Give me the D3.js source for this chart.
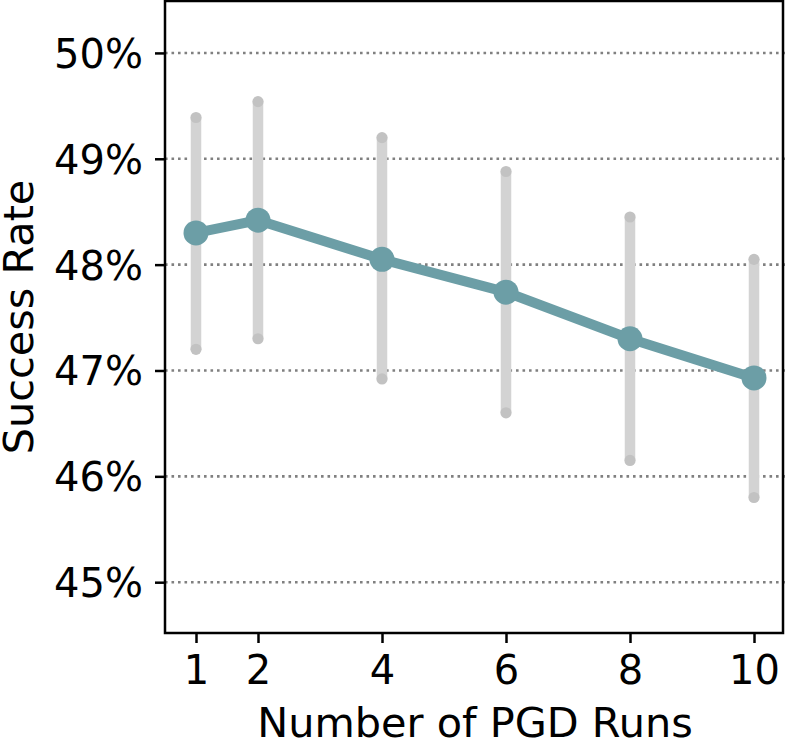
<!DOCTYPE html>
<html>
<head>
<meta charset="utf-8">
<script src="https://cdn.jsdelivr.net/npm/d3@7"></script>
<style>
  body { margin: 0; background: #fff; }
  text { font-family: "DejaVu Sans", sans-serif; fill: #000; }
</style>
</head>
<body>
<svg id="chart" width="785" height="749"></svg>
<script>
// values
var runs = [1, 2, 4, 6, 8, 10];
var meanRate = [48.30, 48.42, 48.05, 47.74, 47.30, 46.93];
var upperRate = [49.39, 49.54, 49.20, 48.88, 48.45, 48.05];
var lowerRate = [47.20, 47.30, 46.92, 46.60, 46.15, 45.80];
var yTicks = [45, 46, 47, 48, 49, 50];

var data = runs.map(function (r, i) {
    return { run: r, mean: meanRate[i], hi: upperRate[i], lo: lowerRate[i] };
});

// plot box (note: "top" is reserved on window, so use other names)
var pLeft = 165, pRight = 785, pTop = 0, pBottom = 633;

var svg = d3.select("#chart");

var x = d3.scaleLinear().domain([0.5, 10.5]).range([pLeft, pRight]);
var y = d3.scaleLinear().domain([44.52, 50.5]).range([pBottom, pTop]);

// dotted horizontal grid
svg.append("g").selectAll("line")
    .data(yTicks)
    .enter()
    .append("line")
    .attr("x1", pLeft)
    .attr("x2", pRight)
    .attr("y1", d => y(d))
    .attr("y2", d => y(d))
    .attr("stroke", "#808080")
    .attr("stroke-width", 2.6)
    .attr("stroke-dasharray", "2.6,3.9");

// error bars
var bars = svg.append("g");
bars.selectAll("line")
    .data(data)
    .enter()
    .append("line")
    .attr("x1", d => x(d.run))
    .attr("x2", d => x(d.run))
    .attr("y1", d => y(d.hi))
    .attr("y2", d => y(d.lo))
    .attr("stroke", "#d3d3d3")
    .attr("stroke-width", 10.5);

bars.selectAll("circle.hi")
    .data(data)
    .enter()
    .append("circle")
    .attr("class", "hi")
    .attr("cx", d => x(d.run))
    .attr("cy", d => y(d.hi))
    .attr("r", 5.6)
    .attr("fill", "#c2c2c2");

bars.selectAll("circle.lo")
    .data(data)
    .enter()
    .append("circle")
    .attr("class", "lo")
    .attr("cx", d => x(d.run))
    .attr("cy", d => y(d.lo))
    .attr("r", 5.6)
    .attr("fill", "#c2c2c2");

// mean line + markers
var line = d3.line()
    .x(d => x(d.run))
    .y(d => y(d.mean));

svg.append("path")
    .datum(data)
    .attr("d", line)
    .attr("fill", "none")
    .attr("stroke", "#6c9ea6")
    .attr("stroke-width", 10)
    .attr("stroke-linejoin", "round");

svg.append("g").selectAll("circle")
    .data(data)
    .enter()
    .append("circle")
    .attr("cx", d => x(d.run))
    .attr("cy", d => y(d.mean))
    .attr("r", 12.5)
    .attr("fill", "#6c9ea6");

// axes
var yAxis = d3.axisLeft(y)
    .tickValues(yTicks)
    .tickSize(10)
    .tickPadding(12)
    .tickFormat(d => d + "%");

var xAxis = d3.axisBottom(x)
    .tickValues(runs)
    .tickSize(10)
    .tickPadding(10)
    .tickFormat(d3.format("d"));

var gy = svg.append("g")
    .attr("transform", "translate(" + pLeft + ",0)")
    .call(yAxis);
var gx = svg.append("g")
    .attr("transform", "translate(0," + pBottom + ")")
    .call(xAxis);

[gx, gy].forEach(function (g) {
    g.select(".domain").remove();
    g.selectAll(".tick line").attr("stroke", "#000").attr("stroke-width", 2.5);
    g.selectAll(".tick text").attr("font-size", 40).attr("font-family", "DejaVu Sans");
});
gy.selectAll(".tick text").attr("dy", "0.36em");
gx.selectAll(".tick text").attr("dy", "0.78em");

// frame
svg.append("rect")
    .attr("x", pLeft)
    .attr("y", pTop + 1)
    .attr("width", pRight - pLeft - 2)
    .attr("height", pBottom - pTop - 1)
    .attr("fill", "none")
    .attr("stroke", "#000")
    .attr("stroke-width", 2.5);

// labels
svg.append("text")
    .attr("x", (pLeft + pRight) / 2)
    .attr("y", 737)
    .attr("text-anchor", "middle")
    .attr("font-size", 41.4)
    .text("Number of PGD Runs");

svg.append("text")
    .attr("transform", "translate(33,317) rotate(-90)")
    .attr("text-anchor", "middle")
    .attr("font-size", 41.4)
    .text("Success Rate");
</script>
</body>
</html>
